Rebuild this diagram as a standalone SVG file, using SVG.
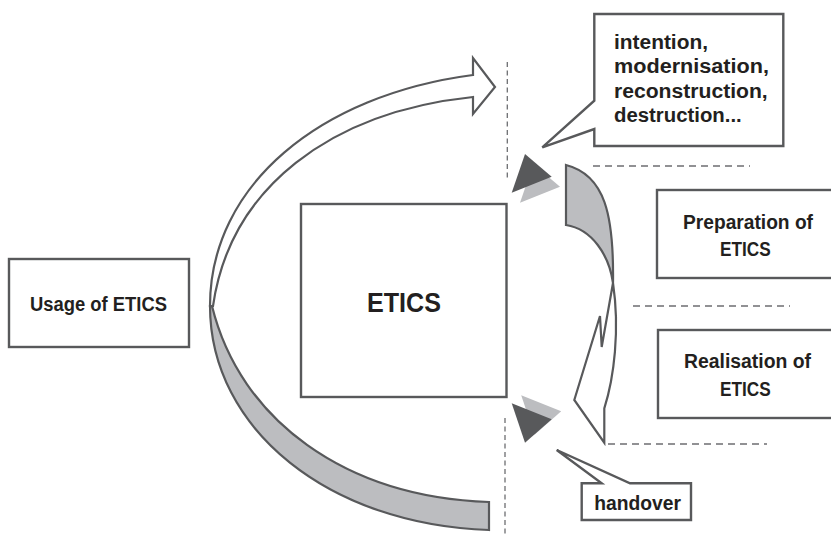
<svg xmlns="http://www.w3.org/2000/svg" width="831" height="534" viewBox="0 0 831 534">
<style>
.box{fill:#fff;stroke:#58595b;stroke-width:2.4}
.t{font-family:"Liberation Sans",Arial,sans-serif;font-weight:bold;font-size:20px;fill:#231f20}
.big{font-size:28px}
.band{fill:#bcbdc0;stroke:#58595b;stroke-width:2.2;stroke-linejoin:miter}
.wband{fill:#fff;stroke:#58595b;stroke-width:2.2;stroke-linejoin:miter}
.dv{fill:none;stroke:#6d6e71;stroke-width:1.3;stroke-dasharray:5 3.5}
.dh{fill:none;stroke:#6d6e71;stroke-width:1.3;stroke-dasharray:7 5}
.dark{fill:#58595b}
.light{fill:#bcbdc0}
</style>
<rect width="831" height="534" fill="#fff"/>
<g id="connectors">
  <path class="dv" d="M507.3,62V181"/>
  <path class="dv" d="M505,418V534"/>
  <path class="dh" d="M593,166H750"/>
  <path class="dh" d="M633,306H790"/>
  <path class="dh" d="M608,444H767"/>
  <path class="band" d="M210,306 C210,430 330,525 489,530 L489,502 C345,497 240,420 212,306 Z"/>
  <path class="wband" d="M210,306 C210,185 320,95 473,75 L473,58 L495,87 L473,114 L473,97 C330,112 230,188 213,306 Z"/>
  <path class="band" d="M566,165 C605,175 614,215 613,283 C609,255 592,229 566,225 Z"/>
  <path class="wband" d="M613,283 L601.7,347 L600,316 L574.3,400 L604.3,442.7 L604.3,408.3 C614,378 620,330 613,283 Z"/>
  <polygon class="light" points="520,202.7 533.3,164 560,186.7"/>
  <polygon class="dark" points="511.7,192.7 525,154 551.7,176.7"/>
  <polygon class="light" points="521.2,395.3 534.5,434.7 561.2,411.3"/>
  <polygon class="dark" points="511.7,403.3 525,442.7 551.7,419.3"/>
</g>
<g id="usage">
  <rect class="box" x="9" y="259" width="180" height="88"/>
  <text class="t" x="30" y="311" textLength="137" lengthAdjust="spacingAndGlyphs">Usage of ETICS</text>
</g>
<g id="etics">
  <rect class="box" x="301" y="204" width="205.5" height="193"/>
  <text class="t big" x="367" y="311.7" textLength="74" lengthAdjust="spacingAndGlyphs">ETICS</text>
</g>
<g id="intention">
  <path class="box" d="M594.3,14 H783.3 V146 H594.3 V129 L542.3,147.3 L594.3,100.7 Z"/>
  <text class="t" x="614" y="49" textLength="94" lengthAdjust="spacingAndGlyphs">intention,</text>
  <text class="t" x="614" y="73.4" textLength="155" lengthAdjust="spacingAndGlyphs">modernisation,</text>
  <text class="t" x="614" y="97.8" textLength="153.7" lengthAdjust="spacingAndGlyphs">reconstruction,</text>
  <text class="t" x="614" y="122.2" textLength="127.7" lengthAdjust="spacingAndGlyphs">destruction...</text>
</g>
<g id="preparation">
  <rect class="box" x="657" y="190" width="185" height="88"/>
  <text class="t" x="683" y="229" textLength="130" lengthAdjust="spacingAndGlyphs">Preparation of</text>
  <text class="t" x="720" y="256" textLength="50.7" lengthAdjust="spacingAndGlyphs">ETICS</text>
</g>
<g id="realisation">
  <rect class="box" x="658" y="330" width="185" height="88"/>
  <text class="t" x="684" y="368" textLength="127" lengthAdjust="spacingAndGlyphs">Realisation of</text>
  <text class="t" x="720" y="396" textLength="50.7" lengthAdjust="spacingAndGlyphs">ETICS</text>
</g>
<g id="handover">
  <path class="box" d="M581.7,483.3 H601.7 L556.7,450 L630,483.3 H691 V520 H581.7 Z"/>
  <text class="t" x="594.3" y="510" textLength="86.7" lengthAdjust="spacingAndGlyphs">handover</text>
</g>
</svg>
